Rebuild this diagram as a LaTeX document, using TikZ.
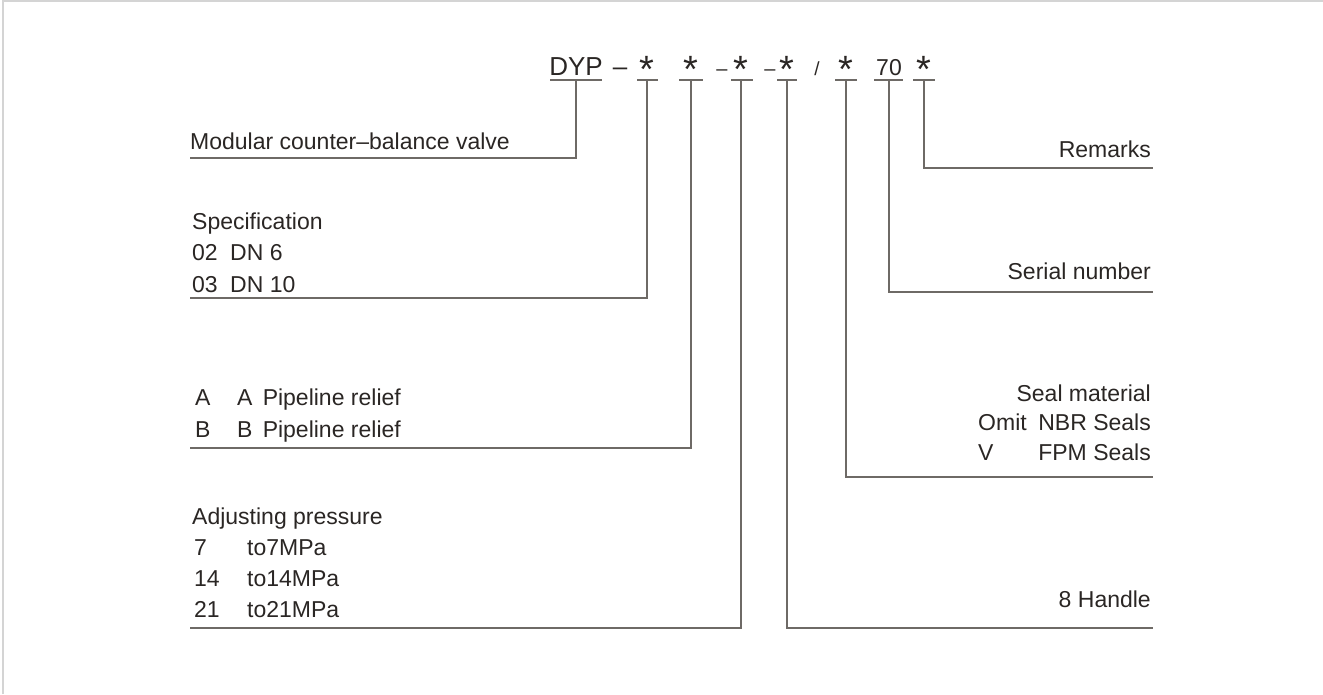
\documentclass[tikz,border=0pt]{standalone}
\usepackage{fontspec}
\setmainfont{Liberation Sans}
\definecolor{txtc}{HTML}{2A2624}
\definecolor{linec}{HTML}{6E6A66}
\definecolor{framec}{HTML}{D4D4D4}
\newcommand\astk{\raisebox{-0.3em}{\fontsize{38}{38}\selectfont *}}
\tikzset{
  ln/.style={draw=linec, line width=1.3pt},
  tok/.style={inner sep=0pt, anchor=base, text=txtc, font=\fontsize{26}{26}\selectfont},
  lt/.style={inner sep=0pt, anchor=base west, text=txtc, font=\fontsize{23}{23}\selectfont},
  rt/.style={inner sep=0pt, anchor=base east, text=txtc, font=\fontsize{23}{23}\selectfont},
}
\begin{document}
\begin{tikzpicture}[x=1pt,y=-1pt]
\useasboundingbox (0,0) rectangle (1323,694);
\draw[framec, line width=2pt] (3,694) -- (3,1) -- (1323,1);
% code tokens
\node[tok] (dyp) at (576,75) {DYP};
\node[tok] (d1) at (620,75) {–};
\node[tok] (a1) at (647,75) {\astk};
\node[tok] (a2) at (691,75) {\astk};
\node[tok, font=\fontsize{20}{20}\selectfont] (d2) at (722,75) {–};
\node[tok] (a3) at (741,75) {\astk};
\node[tok, font=\fontsize{20}{20}\selectfont] (d3) at (770,75) {–};
\node[tok] (a4) at (787,75) {\astk};
\node[tok, font=\fontsize{19}{19}\selectfont] (sl) at (817,75) {/};
\node[tok] (a5) at (846,75) {\astk};
\node[tok, font=\fontsize{23}{23}\selectfont] (n70) at (889,75) {70};
\node[tok] (a6) at (924,75) {\astk};
% underlines
\coordinate (u) at (0,80);
\draw[ln] (550,80) -- (602,80);
\draw[ln] (637,80) -- (658,80);
\draw[ln] (679,80) -- (703,80);
\draw[ln] (731,80) -- (753,80);
\draw[ln] (777,80) -- (797,80);
\draw[ln] (835,80) -- (857,80);
\draw[ln] (874,80) -- (903,80);
\draw[ln] (913,80) -- (935,80);
% left labels
\node[lt] (mod) at (190,149) {Modular counter–balance valve};
\coordinate (e0) at (190,158);
\node[lt] (spec) at (192,229) {Specification};
\node[lt] (s02) at (192,260) {02};
\node[lt] (s02b) at (230,260) {DN 6};
\node[lt] (s03) at (192,292) {03};
\node[lt] (s03b) at (230,292) {DN 10};
\coordinate (e1) at (190,298);
\node[lt] (pa) at (195,405) {A};
\node[lt] (pab) at (237,405) {A\, Pipeline relief};
\node[lt] (pb) at (195,437) {B};
\node[lt] (pbb) at (237,437) {B\, Pipeline relief};
\coordinate (e2) at (190,448);
\node[lt] (adj) at (192,524) {Adjusting pressure};
\node[lt] (p7) at (194,555) {7};
\node[lt] (p7b) at (247,555) {to7MPa};
\node[lt] (p14) at (194,586) {14};
\node[lt] (p14b) at (247,586) {to14MPa};
\node[lt] (p21) at (194,617) {21};
\node[lt] (p21b) at (247,617) {to21MPa};
\coordinate (e3) at (190,628);
% right labels
\node[rt] (rem) at (1151,157) {Remarks};
\coordinate (f0) at (1153,168);
\node[rt] (ser) at (1151,279) {Serial number};
\coordinate (f1) at (1153,292);
\node[rt] (seal) at (1151,401) {Seal material};
\node[lt] (om) at (978,430) {Omit};
\node[rt] (omb) at (1151,430) {NBR Seals};
\node[lt] (vv) at (978,460) {V};
\node[rt] (vvb) at (1151,460) {FPM Seals};
\coordinate (f2) at (1153,477);
\node[rt] (hd) at (1151,607) {8 Handle};
\coordinate (f3) at (1153,628);
% connectors
\draw[ln] (dyp |- u) -- (dyp |- e0) -- (e0);
\draw[ln] (a1 |- u) -- (a1 |- e1) -- (e1);
\draw[ln] (a2 |- u) -- (a2 |- e2) -- (e2);
\draw[ln] (a3 |- u) -- (a3 |- e3) -- (e3);
\draw[ln] (a4 |- u) -- (a4 |- f3) -- (f3);
\draw[ln] (a5 |- u) -- (a5 |- f2) -- (f2);
\draw[ln] (n70 |- u) -- (n70 |- f1) -- (f1);
\draw[ln] (a6 |- u) -- (a6 |- f0) -- (f0);
\end{tikzpicture}
\end{document}
